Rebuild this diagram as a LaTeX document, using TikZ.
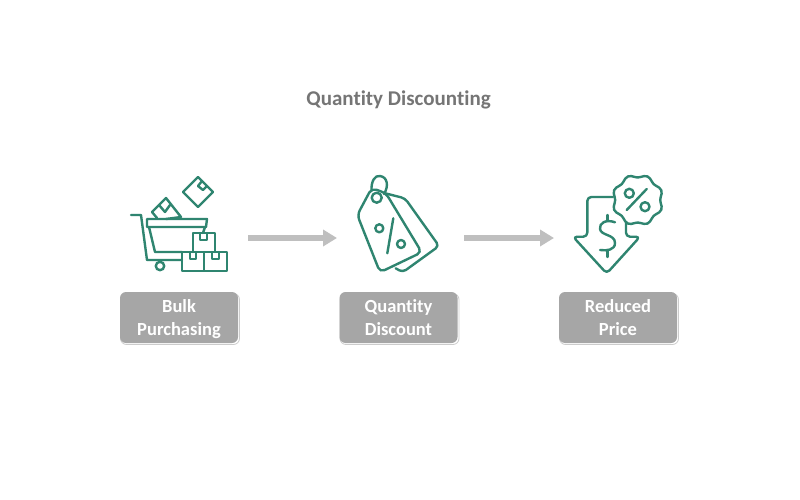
\documentclass[tikz,border=0pt]{standalone}
\usepackage{fontspec}
\setmainfont[Ligatures=NoCommon]{Carlito}
\usetikzlibrary{arrows.meta}
\definecolor{teal1}{HTML}{2F8570}
\definecolor{boxg}{HTML}{A6A6A6}
\definecolor{arrg}{HTML}{BFBFBF}
\definecolor{titleg}{HTML}{757575}
\tikzset{
  icon/.style={draw=teal1,line width=2.4pt,line join=round,line cap=round,fill=none},
  label box/.style={draw=none,fill=boxg,rounded corners=6pt,minimum width=118pt,minimum height=51pt,inner sep=0pt,align=center,text=white,font=\fontsize{18.5}{22.5}\selectfont\bfseries},
  shadow box/.style={draw=black!20,line width=0.8pt,fill=white,rounded corners=6pt},
  flow/.style={draw=arrg,line width=5.5pt,-{Triangle[length=14pt,width=16pt]},shorten >=0pt}
}
\newcommand{\boxtext}[2]{\raisebox{-6.5pt}[0pt][0pt]{\begin{tabular}{@{}c@{}}#1\\#2\end{tabular}}}
\begin{document}
\begin{tikzpicture}[x=1pt,y=-1pt]
\useasboundingbox[fill=white] (0,0) rectangle (800,500);
\node[font=\fontsize{21}{25}\selectfont\bfseries,text=titleg] (title) at (398.5,99.5) {Quantity Discounting};

% label boxes
\foreach \x in {180,399.5,619}{
  \path[shadow box] (\x-59.5,293.5) rectangle (\x+59.5,344.5);
}
\node[label box] (b1) at (179,317.5) {\boxtext{Bulk}{Purchasing}};
\node[label box] (b2) at (398.5,317.5) {\boxtext{Quantity}{Discount}};
\node[label box] (b3) at (618,317.5) {\boxtext{Reduced}{Price}};

% arrows
\coordinate (a1s) at (248,238); \coordinate (a1e) at (337,238);
\coordinate (a2s) at (464,238); \coordinate (a2e) at (554,238);
\draw[flow] (a1s) -- (a1e);
\draw[flow] (a2s) -- (a2e);

% cart
\draw[icon] (131,215) -- (141,215) -- (147,260) -- (182,260);
\draw[icon] (147,227) -- (147,219) -- (207,219) -- (206,227) -- (147,227);
\draw[icon] (205,227) -- (203,233);
\draw[icon] (149,227) -- (155,252) -- (182,252);
\draw[icon] (160,266) circle (4.2);
\draw[icon] (193,252) -- (193,233) -- (215,233) -- (215,252);
\draw[icon] (182,252) rectangle (204,271);
\draw[icon] (204,252) rectangle (227,271);
\draw[icon] (200,233) -- (200,240) -- (207,240) -- (207,233);
\draw[icon] (190,252) -- (190,259) -- (196,259) -- (196,252);
\draw[icon] (212,252) -- (212,259) -- (219,259) -- (219,252);
% flying box
\draw[icon] (198,177) -- (213,192) -- (198,207) -- (183,192) -- cycle;
\draw[icon] (202,181) -- (198,186) -- (203,190) -- (207,186);
% box in cart
\draw[icon] (157,218) -- (152,212) -- (166,198) -- (181,217) -- (166,219);
\draw[icon] (159,205) -- (165,212) -- (170,205);

% tags
\draw[icon,rounded corners=4pt] (385,193.3) -- (405,198.3) -- (439,246) -- (402.7,272.3) -- (395.7,268.3);
\draw[icon,rounded corners=5pt,fill=white] (357.3,215) -- (371.7,188) -- (386,193.3) -- (421.7,252.3) -- (380,272.3) -- cycle;
\draw[icon] (376.7,197.7) circle (5);
\draw[icon] (371.5,191) .. controls (371,181) and (375,175) .. (380,176) .. controls (387.5,177) and (389,186) .. (384,194);
\draw[icon] (379.3,228.3) circle (4);
\draw[icon] (401,244) circle (4);
\draw[icon] (393.3,218.3) -- (387.3,253.3);

% reduced price arrow
\draw[icon,rounded corners=4pt] (613,197) -- (587.3,197) -- (587.3,236.7) -- (573,236.7) -- (606.7,273.5) -- (640,236.7) -- (626,236.7) -- (626,221.7);
\draw[icon] (607.3,215) -- (607.3,221);
\draw[icon] (607.3,251) -- (607.3,257);
\draw[icon] (615,222.3) .. controls (606,219) and (599,223) .. (600,229) .. controls (601,236) and (615,234) .. (615,243) .. controls (615,250) and (607,251) .. (600,250);
% badge
\draw[icon,fill=white,smooth cycle] plot[domain=0:352.5,samples=48,variable=\t] ({637.7+(24+1.5*cos(8*\t))*cos(\t+22.5)},{200+(24+1.5*cos(8*\t))*sin(\t+22.5)});
\draw[icon] (629.3,193.3) circle (4.5);
\draw[icon] (645,206.7) circle (4.5);
\draw[icon] (646.7,189) -- (626.7,210);
\end{tikzpicture}
\end{document}
